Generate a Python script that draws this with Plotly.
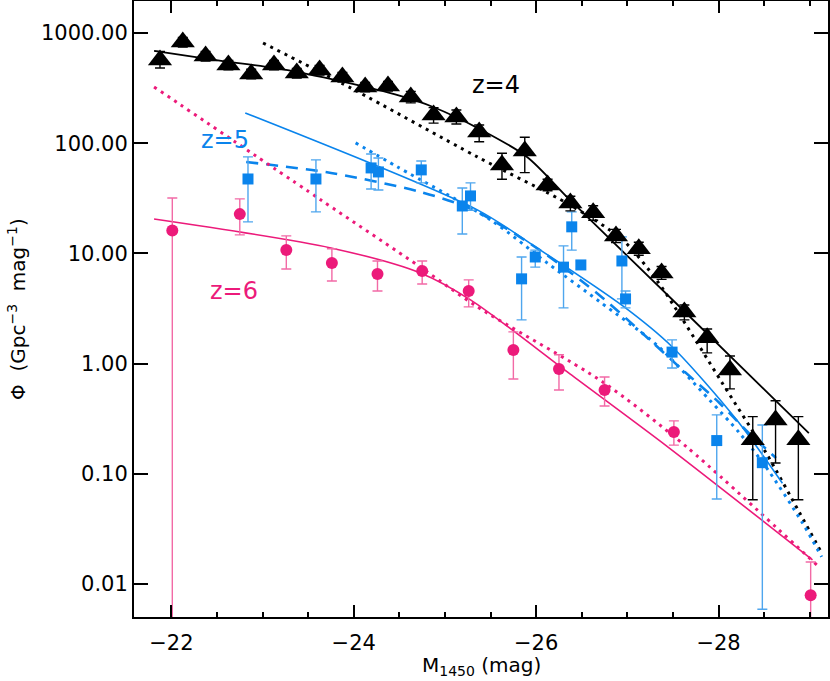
import plotly.graph_objects as go

# ---------------- data ----------------
# z=4 (black triangles)
z4_M = [-21.875, -22.125, -22.375, -22.625, -22.875, -23.125, -23.375, -23.625, -23.875, -24.125,
        -24.375, -24.625, -24.875, -25.125, -25.375, -25.625, -25.875, -26.125, -26.375, -26.625,
        -26.875, -27.125, -27.375, -27.625, -27.875, -28.125, -28.375, -28.625, -28.875]
z4_phi = [569, 828, 618, 513, 425, 513, 433, 461, 399, 324,
          330, 262, 180, 173, 126, 63.4, 84.9, 41.8, 28.7, 23.3,
          14.4, 11.0, 6.64, 2.94, 1.71, 0.875, 0.203, 0.308, 0.203]
z4_lo = [481, 745, 556, 462, 383, 462, 390, 415, 359, 292,
         297, 232, 152, 149, 103, 47, 54, 37, 24.3, 20,
         12.5, 9.6, 5.8, 2.49, 1.25, 0.589, 0.058, 0.125, 0.058]
z4_hi = [680, 911, 680, 564, 468, 564, 476, 507, 439, 356,
         363, 295, 210, 200, 146, 81, 113, 47, 33, 27,
         16.5, 12.6, 7.6, 3.4, 2.06, 1.17, 0.33, 0.46, 0.33]

# z=5 (blue squares)
z5_M = [-22.84, -23.585, -24.19, -24.27, -24.74, -25.19, -25.28, -25.84, -25.99, -26.30,
        -26.39, -26.49, -26.94, -26.98, -27.49, -27.98, -28.48]
z5_phi = [47.3, 47.3, 59.6, 54.8, 57.2, 26.9, 33.2, 5.87, 9.27, 7.5,
          17.4, 7.85, 8.53, 3.86, 1.27, 0.20, 0.126]
z5_lo = [19.3, 23.8, 38.4, 37.6, 43.6, 15.0, 24.6, 2.49, 7.5, 3.2,
         10.7, 7.2, 3.86, 3.2, 0.91, 0.059, 0.0059]
z5_hi = [75, 70.5, 79.8, 73.4, 68.9, 39.2, 43.6, 9.27, 10.7, 11.7,
         23.8, 8.5, 14.1, 4.56, 1.64, 0.342, 0.277]

# z=6 (pink circles)
z6_M = [-22.01, -22.75, -23.26, -23.76, -24.26, -24.75, -25.26, -25.75, -26.25, -26.75, -27.51, -29.01]
z6_phi = [16.1, 22.7, 10.7, 8.19, 6.5, 6.92, 4.56, 1.33, 0.893, 0.576, 0.239, 0.0079]
z6_lo = [0.0001, 14.7, 7.2, 5.62, 4.56, 5.27, 3.27, 0.725, 0.576, 0.412, 0.182, 0.0001]
z6_hi = [31.8, 31.2, 14.4, 11.0, 8.53, 8.53, 5.74, 1.94, 1.2, 0.755, 0.302, 0.0158]

# model curves
z4_fit_M = [-21.81, -22.47, -23.13, -23.89, -24.51, -24.87, -25.36, -25.90, -26.37, -27.61, -28.99]
z4_fit_phi = [687, 569, 481, 359, 268, 213, 137, 75, 30.5, 3.06, 0.234]

z4_dot_M = [-23.005, -23.97, -25.355, -26.37, -26.95, -27.32, -27.54, -28.04, -28.52, -28.89, -29.13]
z4_dot_phi = [811, 316, 75, 27.5, 13.2, 5.74, 3.06, 0.667, 0.155, 0.044, 0.0191]

z5_fit_M = [-22.81, -25.355, -26.01, -26.95, -27.49, -28.20, -28.70]
z5_fit_phi = [188, 24.8, 11.2, 3.33, 1.42, 0.307, 0.082]

z5_dash_M = [-22.82, -23.75, -24.73, -25.31, -26.04, -26.73, -27.21, -27.57, -28.01, -28.32, -28.63]
z5_dash_phi = [67.4, 53.7, 36.1, 24.8, 10.7, 3.94, 1.74, 0.93, 0.439, 0.239, 0.139]

z5_dot_M = [-24.02, -24.48, -25.50, -26.12, -26.70, -27.32, -27.90, -28.23, -28.52, -28.92, -29.13]
z5_dot_phi = [100.5, 60.8, 20.1, 8.2, 3.62, 1.48, 0.468, 0.234, 0.115, 0.0358, 0.0176]

z6_fit_M = [-21.81, -23.75, -24.73, -25.28, -26.37, -27.46, -29.03]
z6_fit_phi = [20.5, 11.2, 6.64, 3.78, 0.805, 0.171, 0.0165]

z6_dot_M = [-21.81, -23.64, -24.73, -25.355, -26.73, -27.65, -29.10]
z6_dot_phi = [324, 30.5, 7.5, 3.27, 0.68, 0.175, 0.0143]

y_tickvals = [0.01, 0.1, 1, 10, 100, 1000]
y_ticktext = ["0.01", "0.10", "1.00", "10.00", "100.00", "1000.00"]

BLACK = "#000000"
BLUE = "#0A84EC"
BLUE_ERR = "#4FA6EE"
PINK = "#EC1A7A"
PINK_ERR = "#F26AA6"
FONT = "DejaVu Sans"

fig = go.Figure()


def line(xs, ys, color, width, dash="solid"):
    fig.add_trace(go.Scatter(x=xs, y=ys, mode="lines", line=dict(color=color, width=width, dash=dash,
                                                               shape="spline", smoothing=0.8),
                             hoverinfo="skip"))


line(z4_fit_M, z4_fit_phi, BLACK, 1.8)
line(z4_dot_M, z4_dot_phi, BLACK, 3, "3px,5px")
line(z5_fit_M, z5_fit_phi, BLUE, 1.6)
line(z5_dash_M, z5_dash_phi, BLUE, 2.6, "12px,8px")
line(z5_dot_M, z5_dot_phi, BLUE, 3, "3px,5px")
line(z6_fit_M, z6_fit_phi, PINK, 1.6)
line(z6_dot_M, z6_dot_phi, PINK, 3, "3px,5px")


def pts(xs, ys, lo, hi, color, ecolor, symbol, size):
    fig.add_trace(go.Scatter(
        x=xs, y=ys, mode="markers",
        marker=dict(symbol=symbol, size=size, color=color, line=dict(width=0)),
        error_y=dict(type="data", symmetric=False,
                     array=[h - v for h, v in zip(hi, ys)],
                     arrayminus=[v - l for v, l in zip(ys, lo)],
                     color=ecolor, thickness=1.4, width=5),
    ))


pts(z6_M, z6_phi, z6_lo, z6_hi, PINK, PINK_ERR, "circle", 12)
pts(z5_M, z5_phi, z5_lo, z5_hi, BLUE, BLUE_ERR, "square", 11)
pts(z4_M, z4_phi, z4_lo, z4_hi, BLACK, BLACK, "triangle-up", 21)

fig.add_annotation(x=-25.56, y=2.528, text="z=4", showarrow=False, font=dict(size=24, color=BLACK))
fig.add_annotation(x=-22.59, y=2.029, text="z=5", showarrow=False, font=dict(size=24, color=BLUE))
fig.add_annotation(x=-22.69, y=0.659, text="z=6", showarrow=False, font=dict(size=24, color=PINK))

# axis titles
fig.add_annotation(xref="paper", yref="paper", x=0.5, y=0, yanchor="middle", yshift=-49,
                   text="M<sub>1450</sub> (mag)", showarrow=False, font=dict(size=20))
fig.add_annotation(xref="paper", yref="paper", x=0, y=0.5, xanchor="center", xshift=-117,
                   textangle=-90, text="Φ  (Gpc<sup>−3</sup>  mag<sup>−1</sup>)",
                   showarrow=False, font=dict(size=20))

fig.update_layout(
    width=830, height=681,
    margin=dict(l=134, r=2, t=1, b=64),
    plot_bgcolor="white", paper_bgcolor="white",
    showlegend=False,
    font=dict(family=FONT, size=21, color="black"),
)
fig.update_xaxes(
    range=[-21.59, -29.20], tickmode="linear", tick0=-22, dtick=2,
    ticks="inside", ticklen=12, tickwidth=1.5, tickcolor="black",
    mirror="allticks", showline=True, linewidth=2, linecolor="black",
    showgrid=False, zeroline=False, ticklabelstandoff=6, automargin=False,
    minor=dict(dtick=0.5, tick0=-22, ticks="inside", ticklen=5, tickwidth=1.5, tickcolor="black", showgrid=False),
)
fig.update_yaxes(
    type="log", range=[-2.30, 3.29],
    tickmode="array", tickvals=y_tickvals, ticktext=y_ticktext,
    ticks="inside", ticklen=14, tickwidth=1.5, tickcolor="black",
    mirror="allticks", showline=True, linewidth=2, linecolor="black",
    showgrid=False, zeroline=False, automargin=False,
)

fig.write_html("out.html", config={"displayModeBar": False},
               post_script="document.body.style.margin='0';document.body.style.overflow='hidden';")
